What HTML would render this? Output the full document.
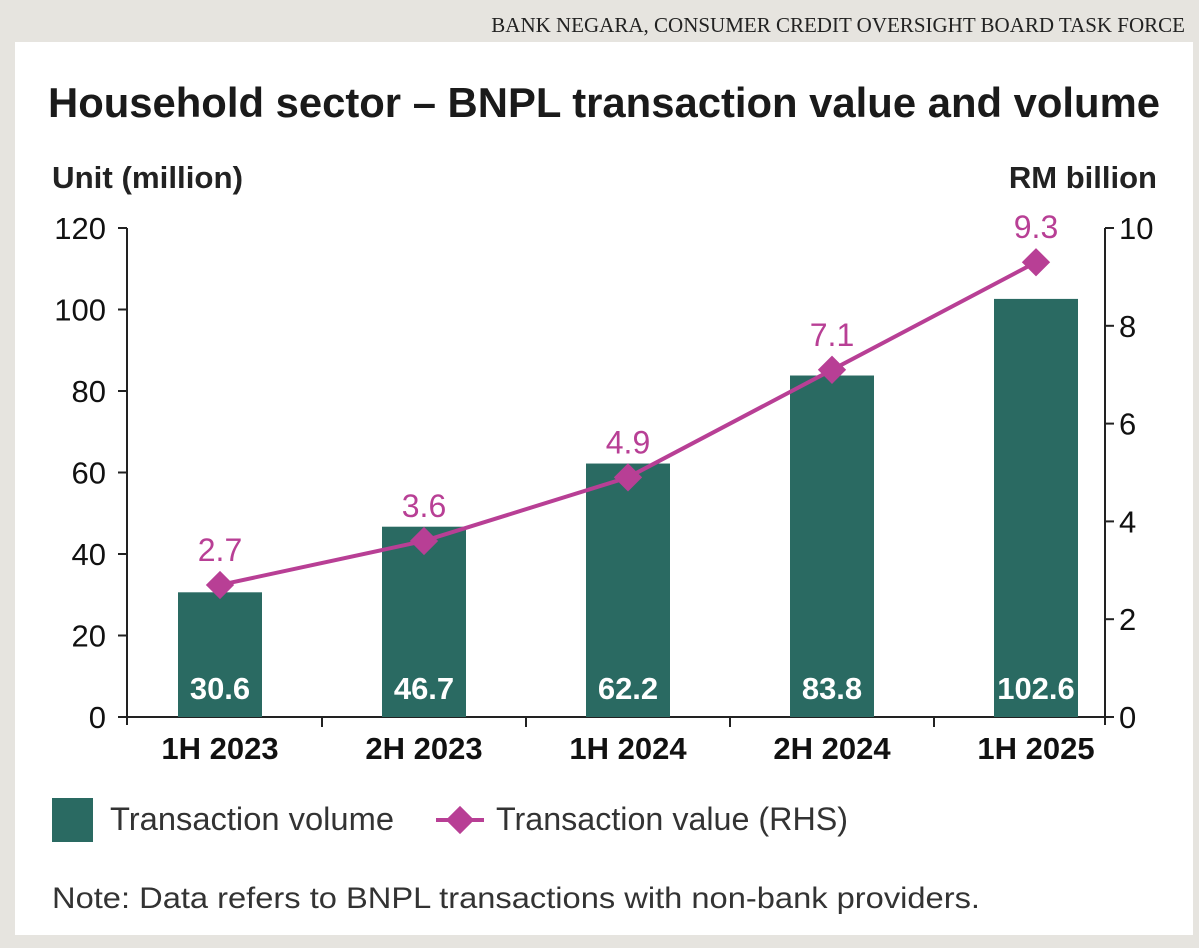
<!DOCTYPE html>
<html><head><meta charset="utf-8"><style>
html,body{margin:0;padding:0;width:1199px;height:948px;overflow:hidden;background:#e6e4df}
svg{display:block}
</style></head><body>
<svg id="chart" width="1199" height="948" xmlns="http://www.w3.org/2000/svg">
<rect x="0" y="0" width="1199" height="948" fill="#e6e4df"/>
<text x="1185" y="32" text-anchor="end" font-family="Liberation Serif, serif" font-size="21" fill="#222">BANK NEGARA, CONSUMER CREDIT OVERSIGHT BOARD TASK FORCE</text>
<rect x="15" y="42" width="1178" height="893" fill="#fff"/>
<text x="48" y="117" font-family="Liberation Sans, sans-serif" font-weight="bold" font-size="42" textLength="1112" lengthAdjust="spacingAndGlyphs" fill="#1a1a1a">Household sector – BNPL transaction value and volume</text>
<text x="52" y="188" font-family="Liberation Sans, sans-serif" font-weight="bold" font-size="31" textLength="191" lengthAdjust="spacingAndGlyphs" fill="#222">Unit (million)</text>
<text x="1157" y="188" text-anchor="end" font-family="Liberation Sans, sans-serif" font-weight="bold" font-size="31" fill="#222">RM billion</text>
<g id="axes"></g>
<g id="bars"></g>
<g id="line"></g>
<g>
<rect x="52" y="798" width="41" height="44" fill="#2a6a62"/>
<text x="110" y="830" font-family="Liberation Sans, sans-serif" font-size="32" textLength="284" lengthAdjust="spacingAndGlyphs" fill="#333">Transaction volume</text>
<line x1="436" y1="820" x2="484" y2="820" stroke="#b83f95" stroke-width="4"/>
<rect x="450" y="810" width="20" height="20" fill="#b83f95" transform="rotate(45 460 820)"/>
<text x="496" y="830" font-family="Liberation Sans, sans-serif" font-size="32" textLength="352" lengthAdjust="spacingAndGlyphs" fill="#333">Transaction value (RHS)</text>
</g>
<text x="52" y="908" font-family="Liberation Sans, sans-serif" font-size="30" textLength="928" lengthAdjust="spacingAndGlyphs" fill="#333">Note: Data refers to BNPL transactions with non-bank providers.</text>
</svg>
<script>
const categories = ["1H 2023","2H 2023","1H 2024","2H 2024","1H 2025"];
const volumeValues = [30.6,46.7,62.2,83.8,102.6];
const valueValues = [2.7,3.6,4.9,7.1,9.3];
const leftTicks = [0,20,40,60,80,100,120];
const rightTicks = [0,2,4,6,8,10];

const NS="http://www.w3.org/2000/svg";
const X0=127,X1=1105,Y0=717,Y1=228;
const yL=v=>Y0-(v/120)*(Y0-Y1);
const yR=v=>Y0-(v/10)*(Y0-Y1);
const FIRST=220,LAST=1036;
const step=(LAST-FIRST)/(categories.length-1);
const xC=i=>FIRST+step*i;
function mk(tag,attrs,parent,text){const e=document.createElementNS(NS,tag);for(const k in attrs)e.setAttribute(k,attrs[k]);if(text!=null)e.textContent=text;parent.appendChild(e);return e;}
const F="Liberation Sans, sans-serif";
const axes=document.getElementById('axes');
let e;
e=mk('line',{x1:X0,y1:Y1,x2:X0,y2:Y0+8,stroke:'#222','stroke-width':2},axes);


e=mk('line',{x1:X1,y1:Y1,x2:X1,y2:Y0+8,stroke:'#222','stroke-width':2},axes);


e=mk('line',{x1:X0,y1:Y0,x2:X1,y2:Y0,stroke:'#222','stroke-width':2},axes);


leftTicks.forEach(t=>{
 const y=yL(t);
 e=mk('line',{x1:X0-9,y1:y,x2:X0,y2:y,stroke:'#222','stroke-width':2},axes);
 
 
 e=mk('text',{x:X0-21,y:y+11,'text-anchor':'end','font-family':F,'font-size':31,fill:'#111'},axes,String(t));
 
 
});
rightTicks.forEach(t=>{
 const y=yR(t);
 e=mk('line',{x1:X1,y1:y,x2:X1+9,y2:y,stroke:'#222','stroke-width':2},axes);
 
 
 e=mk('text',{x:X1+14,y:y+11,'font-family':F,'font-size':31,fill:'#111'},axes,String(t));
 
 
});
categories.forEach((c,i)=>{
 if(i>0){
  const xt=(xC(i)+xC(i-1))/2;
  e=mk('line',{x1:xt,y1:Y0,x2:xt,y2:Y0+10,stroke:'#222','stroke-width':2},axes);
  
  
 }
 e=mk('text',{x:xC(i),y:Y0+42,'text-anchor':'middle','font-family':F,'font-weight':'bold','font-size':31,fill:'#111'},axes,c);
 
 
});
const bars=document.getElementById('bars');
volumeValues.forEach((v,i)=>{
 const y=yL(v);
 e=mk('rect',{x:xC(i)-42,y:y,width:84,height:Y0-y,fill:'#2a6a62'},bars);
 
 
 e=mk('text',{x:xC(i),y:Y0-18,'text-anchor':'middle','font-family':F,'font-weight':'bold','font-size':31,fill:'#fff'},bars,v.toFixed(1));
 
 
});
const line=document.getElementById('line');
const pts=valueValues.map((v,i)=>xC(i)+','+yR(v)).join(' ');
e=mk('polyline',{points:pts,fill:'none',stroke:'#b83f95','stroke-width':4},line);


valueValues.forEach((v,i)=>{
 const x=xC(i),y=yR(v);
 e=mk('rect',{x:x-10,y:y-10,width:20,height:20,fill:'#b83f95',transform:`rotate(45 ${x} ${y})`},line);
 
 
 e=mk('text',{x:x,y:y-24,'text-anchor':'middle','font-family':F,'font-size':32,fill:'#b83f95'},line,v.toFixed(1));
 
 
});
</script>
</body></html>
